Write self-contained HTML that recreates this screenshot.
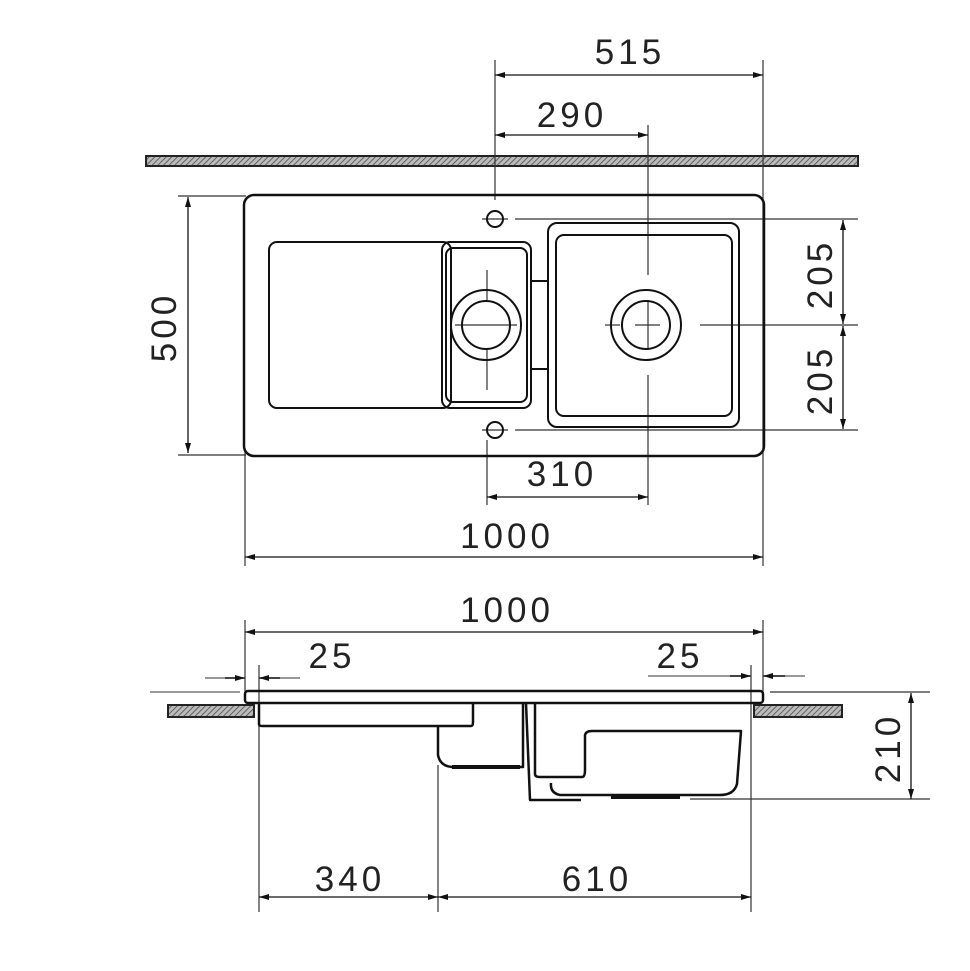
<!DOCTYPE html>
<html><head><meta charset="utf-8"><style>html,body{margin:0;padding:0;background:#fff}svg{display:block}</style></head>
<body>
<svg width="970" height="971" viewBox="0 0 970 971" xmlns="http://www.w3.org/2000/svg">
<defs>
<pattern id="h" width="4" height="4" patternUnits="userSpaceOnUse" patternTransform="rotate(45)">
<rect width="4" height="4" fill="#bbb"/><line x1="0" y1="0" x2="0" y2="4" stroke="#444" stroke-width="1.5"/></pattern>
<marker id="a" viewBox="0 0 10 6" refX="10" refY="3" markerWidth="14" markerHeight="6" markerUnits="userSpaceOnUse" orient="auto-start-reverse"><path d="M0,0 L10,3 L0,6z" fill="#111"/></marker>
</defs>
<g font-family="Liberation Sans, sans-serif" font-size="35" fill="#222" text-anchor="middle" letter-spacing="4">
<!-- top view -->
<rect x="146" y="156" width="712" height="10" fill="url(#h)" stroke="#222" stroke-width="2"/>
<g stroke="#333" stroke-width="1.2" fill="none">
<line x1="495" y1="60" x2="495" y2="200"/>
<line x1="763" y1="60" x2="763" y2="566"/>
<line x1="648" y1="125" x2="648" y2="275"/><line x1="648" y1="300" x2="648" y2="350"/><line x1="648" y1="375" x2="648" y2="505"/>
<line x1="487" y1="440" x2="487" y2="505"/><line x1="487" y1="270" x2="487" y2="300"/><line x1="487" y1="350" x2="487" y2="390"/>
<line x1="245" y1="450" x2="245" y2="566"/>
<line x1="178" y1="196" x2="246" y2="196"/><line x1="178" y1="455" x2="246" y2="455"/>
<line x1="515" y1="219" x2="858" y2="219"/><line x1="700" y1="325" x2="858" y2="325"/><line x1="515" y1="430" x2="858" y2="430"/>
<line x1="605" y1="325" x2="620" y2="325"/><line x1="455" y1="325" x2="517" y2="325"/><line x1="635" y1="325" x2="660" y2="325"/>
<line x1="482" y1="219" x2="508" y2="219"/><line x1="482" y1="430" x2="508" y2="430"/>
</g>
<g stroke="#111" stroke-width="1.3" fill="none" marker-start="url(#a)" marker-end="url(#a)">
<line x1="495" y1="75" x2="763" y2="75"/>
<line x1="495" y1="135" x2="648" y2="135"/>
<line x1="188" y1="197" x2="188" y2="453"/>
<line x1="843" y1="220" x2="843" y2="324"/>
<line x1="843" y1="326" x2="843" y2="429"/>
<line x1="487" y1="497" x2="648" y2="497"/>
<line x1="245" y1="557" x2="763" y2="557"/>
</g>
<g stroke="#111" stroke-width="2.5" fill="none">
<rect x="244" y="195" width="520" height="261" rx="10"/>
<rect x="269" y="242" width="182" height="166" rx="8" stroke-width="2"/>
<rect x="442" y="242" width="89" height="166" rx="8" stroke-width="2"/>
<rect x="446" y="248" width="81" height="154" rx="7" stroke-width="2"/>
<rect x="548" y="223" width="191" height="204" rx="9" stroke-width="2"/>
<rect x="556" y="235" width="176" height="181" rx="8" stroke-width="2"/>
<circle cx="486" cy="325" r="35" stroke-width="2"/><circle cx="486" cy="325" r="24" stroke-width="2"/>
<circle cx="646" cy="325" r="35" stroke-width="2"/><circle cx="646" cy="325" r="24" stroke-width="2"/>
<circle cx="495" cy="219" r="8" stroke-width="2"/><circle cx="495" cy="430" r="8" stroke-width="2"/>
<line x1="531" y1="281" x2="548" y2="281" stroke-width="2"/><line x1="531" y1="369" x2="548" y2="369" stroke-width="2"/>
</g>
<text x="630" y="64">515</text>
<text x="572" y="127">290</text>
<text x="562" y="486">310</text>
<text x="507" y="548">1000</text>
<text transform="translate(176,327) rotate(-90)">500</text>
<text transform="translate(832,274) rotate(-90)">205</text>
<text transform="translate(832,380) rotate(-90)">205</text>
<!-- side view -->
<g stroke="#333" stroke-width="1.2" fill="none">
<line x1="245" y1="620" x2="245" y2="692"/><line x1="763" y1="620" x2="763" y2="692"/>
<line x1="259" y1="665" x2="259" y2="912"/><line x1="438" y1="765" x2="438" y2="912"/><line x1="751" y1="665" x2="751" y2="912"/>
<line x1="150" y1="692" x2="240" y2="692" stroke="#999" stroke-width="2"/>
<line x1="770" y1="692" x2="930" y2="692"/><line x1="690" y1="799" x2="930" y2="799"/>
<line x1="205" y1="678" x2="245" y2="678" stroke="#999" stroke-width="2"/><line x1="259" y1="678" x2="300" y2="678" stroke="#999" stroke-width="2"/>
<line x1="648" y1="676" x2="751" y2="676" stroke="#999" stroke-width="2"/><line x1="763" y1="676" x2="805" y2="676" stroke="#999" stroke-width="2"/>
</g>
<g stroke="#111" stroke-width="1.3" fill="none" marker-start="url(#a)" marker-end="url(#a)">
<line x1="245" y1="632" x2="763" y2="632"/>
<line x1="259" y1="897" x2="438" y2="897"/>
<line x1="438" y1="897" x2="751" y2="897"/>
<line x1="911" y1="693" x2="911" y2="799"/>
</g>
<g stroke="#111" stroke-width="1.3" fill="none" marker-end="url(#a)">
<line x1="225" y1="678" x2="245" y2="678"/><line x1="280" y1="678" x2="259" y2="678"/>
<line x1="730" y1="676" x2="751" y2="676"/><line x1="785" y1="676" x2="763" y2="676"/>
</g>
<rect x="168" y="705" width="86" height="12" fill="url(#h)" stroke="#222" stroke-width="2"/>
<rect x="754" y="705" width="88" height="12" fill="url(#h)" stroke="#222" stroke-width="2"/>
<g stroke="#111" stroke-width="2.5" fill="none" stroke-linejoin="round">
<rect x="245" y="691" width="518" height="12" rx="3"/>
<path d="M259,703 V724 Q259,726 262,726 H471 Q473,726 473,722 V703"/>
<path d="M438,726 V755 Q440,766 452,767 H523 V703"/>
<path d="M526,703 L530,800 H581"/>
<path d="M535,703 V774 Q535,777 540,777 H582 Q585,777 585,770 V735 Q586,731 592,731 H741 L737,784 Q734,795 720,795 H560 Q550,793 551,783"/>
<path d="M611,797 H680" stroke-width="4"/>
<path d="M452,767 H520" stroke-width="4"/>
</g>
<text x="507" y="622">1000</text>
<text x="332" y="668">25</text>
<text x="680" y="668">25</text>
<text x="350" y="891">340</text>
<text x="597" y="891">610</text>
<text transform="translate(900,748) rotate(-90)">210</text>
</g>
</svg>
</body></html>
